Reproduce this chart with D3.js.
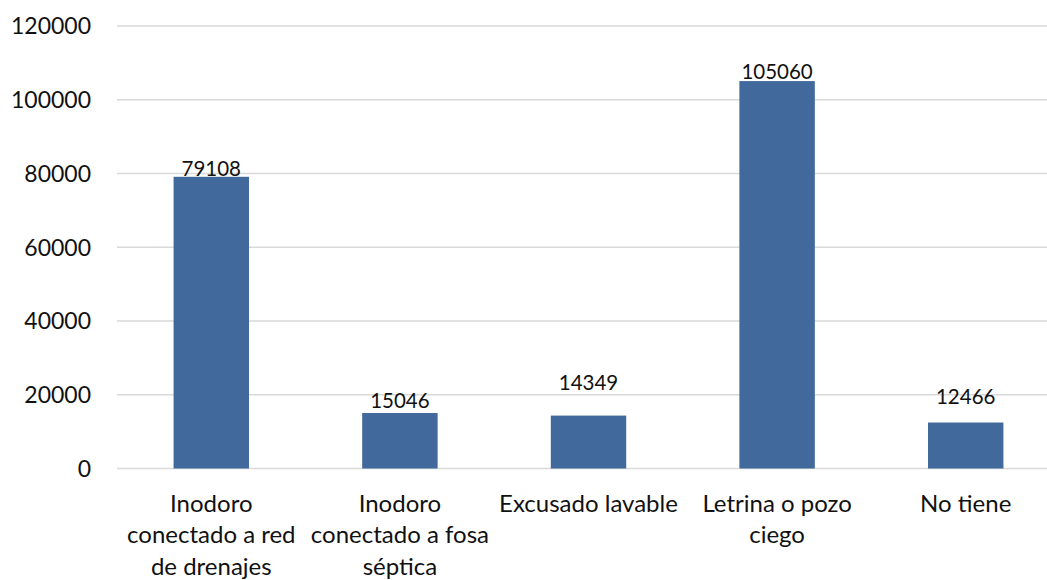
<!DOCTYPE html>
<html>
<head>
<meta charset="utf-8">
<script src="https://cdn.jsdelivr.net/npm/d3@7"></script>
<style>
  body { margin: 0; background: #fff; }
  svg text { font-family: Lato, "Open Sans", sans-serif; fill: #111; }
</style>
</head>
<body>
<div id="chart"></div>
<script>
// data (\n = line break in the axis label)
const categories = [
  "Inodoro\nconectado a red\nde drenajes",
  "Inodoro\nconectado a fosa\nséptica",
  "Excusado lavable",
  "Letrina o pozo\nciego",
  "No tiene"
];
const values = [79108, 15046, 14349, 105060, 12466];
const yTicks = [0, 20000, 40000, 60000, 80000, 100000, 120000];
// labels were moved by hand in the original, px above bar top
const labelLift = [1, 5, 26, 2, 19];

const W = 1047, H = 580;
const margin = { top: 26, right: -13, bottom: 111, left: 117 };

const svg = d3.select("#chart").append("svg")
  .attr("width", W)
  .attr("height", H);

const x = d3.scaleBand()
  .domain(categories)
  .range([margin.left, W - margin.right])
  .paddingInner(0.6)
  .paddingOuter(0.3);

const y = d3.scaleLinear()
  .domain([0, 120000])
  .range([H - margin.bottom - 0.5, margin.top]);

// gridlines
svg.append("g")
  .selectAll("line")
  .data(yTicks)
  .join("line")
  .attr("x1", margin.left)
  .attr("x2", W - margin.right)
  .attr("y1", d => y(d))
  .attr("y2", d => y(d))
  .attr("stroke", "#d9d9d9")
  .attr("stroke-width", 1.4);

// y axis labels
svg.append("g")
  .selectAll("text")
  .data(yTicks)
  .join("text")
  .attr("x", margin.left - 26)
  .attr("y", d => y(d))
  .attr("dy", "0.36em")
  .attr("text-anchor", "end")
  .style("font-size", "23px")
  .text(d => d);

// bars
svg.append("g")
  .selectAll("rect")
  .data(values)
  .join("rect")
  .attr("x", (d, i) => x(categories[i]))
  .attr("width", x.bandwidth())
  .attr("y", d => y(d))
  .attr("height", d => y(0) - y(d))
  .attr("fill", "#41699b");

// value labels
svg.append("g")
  .selectAll("text")
  .data(values)
  .join("text")
  .attr("x", (d, i) => x(categories[i]) + x.bandwidth() / 2)
  .attr("y", (d, i) => y(d) - labelLift[i])
  .attr("text-anchor", "middle")
  .style("font-size", "20.5px")
  .text(d => d);

// category labels
svg.append("g")
  .selectAll("text")
  .data(categories)
  .join("text")
  .attr("y", y(0) + 43)
  .attr("text-anchor", "middle")
  .style("font-size", "24px")
  .selectAll("tspan")
  .data(d => d.split("\n").map(s => ({ s, cx: x(d) + x.bandwidth() / 2 })))
  .join("tspan")
  .attr("x", d => d.cx)
  .attr("dy", (d, i) => (i ? 31.7 : 0))
  .text(d => d.s);
</script>
</body>
</html>
